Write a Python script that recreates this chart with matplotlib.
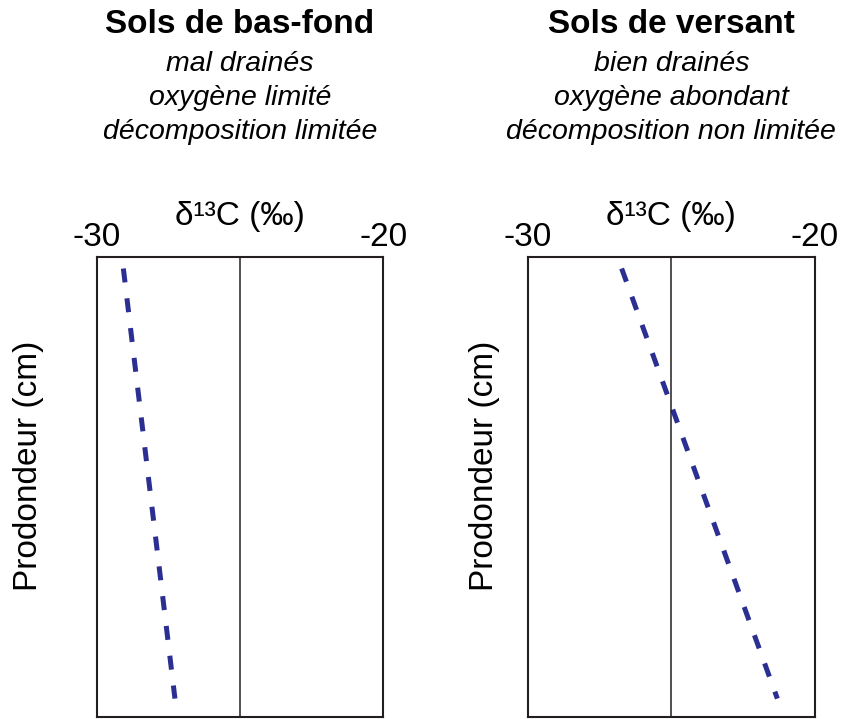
import matplotlib
matplotlib.use("Agg")
import matplotlib.pyplot as plt

plt.rcParams['font.family'] = ['Liberation Sans', 'DejaVu Sans']

# Profile data: depth (relative, top to bottom) and delta13C values (per mil)
depth = [2.5, 96]
d13c_basfond = [-29.07, -27.27]
d13c_versant = [-26.73, -21.31]

titles = ["Sols de bas-fond", "Sols de versant"]
subtitles = [
    ["mal drainés", "oxygène limité", "décomposition limitée"],
    ["bien drainés", "oxygène abondant", "décomposition non limitée"],
]
xticks = [-30, -20]
xticklabels = ["-30", "-20"]
xlabel = "δ¹³C (‰)"
ylabel = "Prodondeur (cm)"

W, H = 842, 719
fig = plt.figure(figsize=(W / 100, H / 100), dpi=100)

line_color = "#2B2F91"
frame_color = "#231F20"

panels = [
    dict(left=96.7, right=383.3, label_x=29, data=d13c_basfond),
    dict(left=527.7, right=815.0, label_x=485, data=d13c_versant),
]
top_px, bottom_px = 257, 717


def fy(px):
    return (H - px) / H


for i, p in enumerate(panels):
    ax = fig.add_axes([p["left"] / W, fy(bottom_px),
                       (p["right"] - p["left"]) / W, (bottom_px - top_px) / H])
    ax.set_xlim(-30, -20)
    ax.set_ylim(100, 0)
    ax.plot(p["data"], depth, color=line_color, lw=3.6,
            linestyle=(0, (2.8, 3.2)), solid_capstyle="butt",
            dash_capstyle="butt")
    ax.axvline(-25, color=frame_color, lw=1.1)
    for s in ax.spines.values():
        s.set_linewidth(1.5)
        s.set_color(frame_color)
    ax.xaxis.tick_top()
    ax.set_xticks(xticks)
    ax.set_xticklabels(xticklabels)
    ax.tick_params(axis="x", length=0, pad=3, labelsize=24)
    ax.set_yticks([])

    cx = (p["left"] + p["right"]) / 2 / W
    fig.text(cx, fy(225), xlabel, ha="center", va="baseline", fontsize=24)
    fig.text(p["label_x"] / W, fy(466), ylabel, rotation=90,
             ha="center", va="center", fontsize=24)

    fig.text(cx, fy(33), titles[i], ha="center", va="baseline",
             fontsize=24, fontweight="bold")
    for j, line in enumerate(subtitles[i]):
        fig.text(cx, fy(71 + 34 * j), line, ha="center",
                 va="baseline", fontsize=20.5, style="italic")

fig.savefig("out.png", dpi=100)
